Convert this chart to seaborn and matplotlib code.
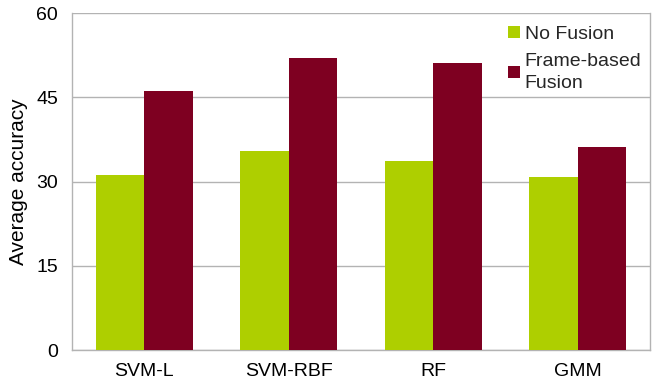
import numpy as np
import pandas as pd
import seaborn as sns
import matplotlib.pyplot as plt
from matplotlib.patches import Patch

classifiers = ['SVM-L', 'SVM-RBF', 'RF', 'GMM']
no_fusion = [31.2, 35.5, 33.6, 30.8]
frame_fusion = [46.2, 52.0, 51.2, 36.2]
series = ['No Fusion', 'Frame-based\nFusion']
colors = ['#aecf00', '#7e0021']
y_ticks = [0, 15, 30, 45, 60]

df = pd.DataFrame({
    'clf': classifiers * 2,
    'acc': no_fusion + frame_fusion,
    'method': [series[0]] * 4 + [series[1]] * 4,
})

sns.set_style('white')
plt.rcParams['font.family'] = ['Liberation Sans', 'DejaVu Sans']

fig = plt.figure(figsize=(6.6, 3.85), dpi=100)
ax = fig.add_axes([0.109, 0.0909, 0.876, 0.8745])

sns.barplot(data=df, x='clf', y='acc', hue='method', palette=colors,
            width=0.67, gap=0, saturation=1, legend=False, ax=ax, zorder=3,
            edgecolor='none', linewidth=0)

ax.set_xlim(-0.5, len(classifiers) - 0.5)
ax.set_ylim(0, 60)
ax.set_yticks(y_ticks)
ax.yaxis.grid(True, color='#b3b3b3', linewidth=1, zorder=0)
ax.set_axisbelow(True)

ax.set_xticks(np.arange(len(classifiers)))
ax.set_xticklabels(classifiers)
ax.set_xticks(np.arange(-0.5, len(classifiers)), minor=True)
ax.tick_params(axis='x', which='major', length=0, pad=9, labelsize=14, labelcolor='black')
ax.tick_params(axis='x', which='minor', length=5, color='#b3b3b3', width=1)
ax.tick_params(axis='y', length=5, color='#b3b3b3', width=1, pad=5, labelsize=14, labelcolor='black')
ax.set_xlabel('')
ax.set_ylabel('Average accuracy', fontsize=15, labelpad=6, color='black')

for side in ['left', 'bottom', 'right']:
    ax.spines[side].set_color('#b3b3b3')
    ax.spines[side].set_linewidth(1)
ax.spines['top'].set_visible(False)

handles = [Patch(facecolor=c, edgecolor='none') for c in colors]
leg = ax.legend(handles, series, loc='upper left', bbox_to_anchor=(0.741, 0.985),
                frameon=False, fontsize=14, handlelength=0.6, handleheight=0.6,
                handletextpad=0.25, labelspacing=0.5, borderaxespad=0)
for t in leg.get_texts():
    t.set_linespacing(1.4)

fig.savefig('out.png', dpi=100)
